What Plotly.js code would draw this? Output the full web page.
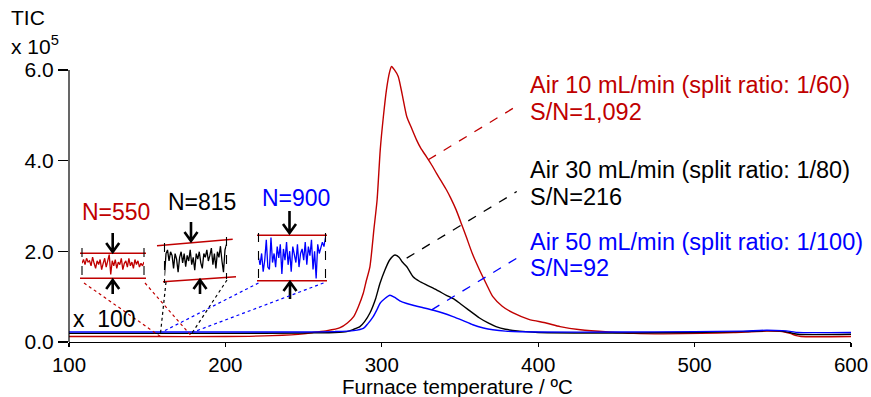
<!DOCTYPE html>
<html>
<head>
<meta charset="utf-8">
<script src="https://cdn.plot.ly/plotly-3.0.1.min.js"></script>
<style>html,body{margin:0;padding:0;background:#fff;}#chart{width:871px;height:397px;}</style>
</head>
<body>
<div id="chart"></div>
<script>
// ---- Data (TIC x 10^5 vs furnace temperature) ----
const redTemp = [100,150,200,230,250,256,265,273,278,282,285,288.2,290,292.4,295,297,299,301,303,305,306.2,308,310.5,313,316,319,322.2,325,328.5,332,335,338,341.3,344,347.6,351,354,358,362.5,367,371,377,384,394,405,414,427,445,461,480,504,525,546,556,561,565,568,600];
const redTIC  = [0.12,0.12,0.12,0.14,0.18,0.21,0.25,0.31,0.42,0.56,0.78,1.08,1.34,1.66,2.5,3.14,4.24,4.97,5.57,5.96,6.08,6.01,5.86,5.47,4.97,4.72,4.46,4.27,4.09,3.9,3.72,3.55,3.36,3.18,2.91,2.6,2.32,1.94,1.59,1.27,1.0,0.79,0.64,0.5,0.42,0.34,0.27,0.22,0.19,0.18,0.19,0.21,0.24,0.23,0.19,0.14,0.12,0.12];

const blackTemp = [100,200,250,270,277.6,282,286,289,292.4,296,298.8,302,305,308.4,311,313,316,320,324,328.5,335,341.3,346,350,355,362.5,368,373,379,388,400,450,500,530,546,556,562,566,600];
const blackTIC  = [0.19,0.19,0.2,0.21,0.23,0.28,0.34,0.45,0.64,0.95,1.29,1.59,1.81,1.92,1.87,1.77,1.66,1.44,1.34,1.26,1.15,1.03,0.95,0.85,0.72,0.53,0.42,0.34,0.28,0.24,0.21,0.2,0.21,0.23,0.25,0.24,0.2,0.17,0.17];

const blueTemp = [100,200,250,270,282,288.2,291,294.5,297,298.8,302,305.2,308,311.5,316,320,326,333,339,345.5,352,358.2,365,371,379,400,450,500,530,546,556,562,566,600];
const blueTIC  = [0.22,0.22,0.22,0.23,0.25,0.3,0.4,0.56,0.72,0.85,0.96,1.03,0.99,0.91,0.85,0.81,0.76,0.7,0.64,0.56,0.47,0.38,0.31,0.27,0.24,0.22,0.22,0.23,0.24,0.26,0.25,0.23,0.21,0.21];

// noise insets (x100 magnified baseline, normalised between the red guide lines)
const redNoise   = [0.6,0.75,0.55,0.8,0.65,0.7,0.5,0.85,0.6,0.4,0.7,0.55,0.75,0.35,0.6,0.8,0.45,0.65,0.95,0.15,0.7,0.5,0.75,0.4,0.65,0.55,0.8,0.35,0.6,0.7,0.45,0.8,0.5,0.65,0.4,0.75,0.55,0.7,0.45,0.6,0.5,0.65];
const blackNoise = [0.1,0.7,0.8,0.5,0.75,0.65,0.3,0.7,0.55,0.2,0.6,0.75,0.45,0.7,0.35,0.65,0.5,0.8,0.4,0.6,0.25,0.7,0.55,0.75,0.45,0.3,0.7,0.6,0.8,0.5,0.65,0.85,0.4,0.7,0.3,0.75,0.6,0.9,0.5,0.2,0.8,0.95];
const blueNoise  = [0.5,0.35,0.6,0.2,0.45,0.9,0.3,0.25,0.95,0.4,0.6,0.3,0.75,0.5,0.8,0.15,0.7,0.45,0.85,0.35,0.65,0.2,0.75,0.55,0.4,0.8,0.3,0.6,0.7,0.45,0.85,0.35,0.75,0.55,0.9,0.25,0.65,0.05,0.8,0.6,0.7,0.85,0.75,0.95];

const seriesNames = ["Air 10 mL/min (split ratio: 1/60)","Air 30 mL/min (split ratio: 1/80)","Air 50 mL/min (split ratio: 1/100)"];
const snLabels = ["S/N=1,092","S/N=216","S/N=92"];
const noiseLabels = ["N=550","N=815","N=900"];
const xTicks = [100,200,300,400,500,600];
const yTicks = [0,2,4,6];
const xTitle = "Furnace temperature / ºC";

// ---- Styling / geometry ----
const RED = "#c00000", BLACK = "#000000", BLUE = "#0000ff";
const FONT = "Liberation Sans, Arial, sans-serif";
const W = 871, H = 397, ML = 69, MR = 20, MT = 61, MB = 55;
const XR = [100, 600], YR = [0, 6.2];
const PW = W - ML - MR, PH = H - MT - MB;
const px = p => (p - ML) / PW;           // pixel x -> paper
const py = p => (H - MB - p) / PH;       // pixel y -> paper
const dx = t => (t - XR[0]) / (XR[1] - XR[0]); // data x -> paper
const dy = v => (v - YR[0]) / (YR[1] - YR[0]); // data y -> paper

const traces = [
  {x: redTemp, y: redTIC, mode: "lines", line: {color: RED, width: 1.4, shape: "spline", smoothing: 0.6}, name: seriesNames[0]},
  {x: blackTemp, y: blackTIC, mode: "lines", line: {color: BLACK, width: 1.4, shape: "spline", smoothing: 0.6}, name: seriesNames[1]},
  {x: blueTemp, y: blueTIC, mode: "lines", line: {color: BLUE, width: 1.4, shape: "spline", smoothing: 0.6}, name: seriesNames[2]},
  {y: redNoise, mode: "lines", line: {color: RED, width: 1.3}, xaxis: "x2", yaxis: "y2"},
  {y: blackNoise, mode: "lines", line: {color: BLACK, width: 1.3}, xaxis: "x3", yaxis: "y3"},
  {y: blueNoise, mode: "lines", line: {color: BLUE, width: 1.3}, xaxis: "x4", yaxis: "y4"}
];

const insetAxis = (x0, x1, yb, yt, n) => ({
  x: {domain: [px(x0), px(x1)], range: [0, n - 1], visible: false, fixedrange: true},
  y: {domain: [py(yb), py(yt)], range: [0, 1], visible: false, fixedrange: true}
});
const in2 = insetAxis(82, 144, 278.3, 253.3, redNoise.length);
const in3 = insetAxis(164.5, 226.5, 279.5, 242.5, blackNoise.length);
const in4 = insetAxis(258.5, 325.5, 280.7, 235.3, blueNoise.length);

const shapes = [];
const pline = (x0, y0, x1, y1, color, width, dash) => shapes.push({type: "line", xref: "paper", yref: "paper",
  x0: px(x0), y0: py(y0), x1: px(x1), y1: py(y1), line: {color, width, dash: dash || "solid"}});
const mixLine = (x0, y0, t, v, color) => shapes.push({type: "line", xref: "paper", yref: "paper",
  x0: px(x0), y0: py(y0), x1: dx(t), y1: dy(v), line: {color, width: 1.2, dash: "dot"}});
const arrow = (x, tail, tip) => {
  const s = tip > tail ? -1 : 1;
  shapes.push({type: "path", xref: "paper", yref: "paper",
    path: `M ${px(x)} ${py(tail)} L ${px(x)} ${py(tip)} M ${px(x - 6.5)} ${py(tip + s * 9)} L ${px(x)} ${py(tip)} L ${px(x + 6.5)} ${py(tip + s * 9)}`,
    line: {color: BLACK, width: 2.6}});
};

// y axis line up to 6.0
shapes.push({type: "line", xref: "paper", yref: "y", x0: 0, x1: 0, y0: 0, y1: 6, line: {color: BLACK, width: 1.2}});

// red inset frame
pline(80, 253.3, 146, 253.3, RED, 1.5); pline(80, 278.3, 146, 278.3, RED, 1.5);
pline(82, 248, 82, 282, BLACK, 1.1, "dash"); pline(144, 248, 144, 282, BLACK, 1.1, "dash");
arrow(112.7, 233, 252); arrow(112.7, 294, 280);
// black inset frame (slanted guide lines)
pline(157, 245.7, 232.7, 239.3, RED, 1.5); pline(163, 281.7, 236, 276.7, RED, 1.5);
pline(164.5, 243, 164.5, 283, BLACK, 1.1, "dash"); pline(226.5, 237, 226.5, 279, BLACK, 1.1, "dash");
arrow(191, 222, 241); arrow(200, 294, 280);
// blue inset frame
pline(257, 235.3, 327, 235.3, RED, 1.5); pline(257, 280.7, 327, 280.7, RED, 1.5);
pline(258.5, 233, 258.5, 283, BLACK, 1.1, "dash"); pline(325.5, 233, 325.5, 283, BLACK, 1.1, "dash");
arrow(289.5, 211, 233); arrow(290, 299, 282);

// dotted connectors to the noise window (160-180 degC)
mixLine(84, 283, 158.5, redTIC[2], RED);
mixLine(145, 283, 178.5, redTIC[2], RED);
mixLine(166, 282, 158.5, blackTIC[1], BLACK);
mixLine(227, 280, 178.5, blackTIC[1], BLACK);
mixLine(258.5, 283, 159.5, blueTIC[1], BLUE);
mixLine(323.5, 283, 179.5, blueTIC[1], BLUE);

// dashed leader lines to labels
const lead = (t0, v0, t1, v1, color) => shapes.push({type: "line", xref: "x", yref: "y", x0: t0, y0: v0, x1: t1, y1: v1, line: {color, width: 1.3, dash: "dash"}});
lead(329.7, 4.02, 384.1, 5.16, RED);
lead(315.9, 1.85, 386.3, 3.32, BLACK);
lead(331.9, 0.71, 386.3, 1.85, BLUE);

const ann = [];
const txt = (x, y, text, color, size, xref, yref, xanchor) => ann.push({x, y, text, xref: xref || "x", yref: yref || "y",
  xanchor: xanchor || "left", yanchor: "middle", showarrow: false, font: {family: FONT, size, color}});
txt(393.5, 5.67, seriesNames[0], RED, 23.5); txt(393.5, 5.08, snLabels[0], RED, 23.5);
txt(393.5, 3.79, seriesNames[1], BLACK, 23.5); txt(393.5, 3.21, snLabels[1], BLACK, 23.5);
txt(393.5, 2.21, seriesNames[2], BLUE, 23.5); txt(393.5, 1.63, snLabels[2], BLUE, 23.5);
txt(px(116), py(212), noiseLabels[0], RED, 23, "paper", "paper", "center");
txt(px(201.5), py(202), noiseLabels[1], BLACK, 23, "paper", "paper", "center");
txt(px(296), py(197.5), noiseLabels[2], BLUE, 23, "paper", "paper", "center");
txt(px(71), py(318.5), "x\u00a0\u00a0100", BLACK, 23, "paper", "paper", "left");
txt(px(9), py(18), "TIC", BLACK, 21, "paper", "paper", "left");
txt(px(9), py(45), "x 10<sup>5</sup>", BLACK, 21, "paper", "paper", "left");
txt(px(457), py(386.5), xTitle, BLACK, 20.5, "paper", "paper", "center");

const layout = {
  width: W, height: H,
  margin: {l: ML, r: MR, t: MT, b: MB, pad: 0},
  paper_bgcolor: "#fff", plot_bgcolor: "#fff",
  showlegend: false,
  font: {family: FONT, color: BLACK},
  xaxis: {range: XR, tickvals: xTicks, ticktext: xTicks.map(String), ticks: "outside", ticklen: 4, tickwidth: 1.2, tickcolor: BLACK,
    showline: true, linecolor: BLACK, linewidth: 1.2, showgrid: false, zeroline: false,
    tickfont: {family: FONT, size: 20.5, color: BLACK}},
  yaxis: {range: YR, tickvals: yTicks, ticktext: yTicks.map(v => v.toFixed(1)), ticks: "outside", ticklen: 10, tickwidth: 1.2, tickcolor: BLACK,
    showline: false, showgrid: false, zeroline: false,
    tickfont: {family: FONT, size: 21, color: BLACK}},
  xaxis2: in2.x, yaxis2: in2.y,
  xaxis3: in3.x, yaxis3: in3.y,
  xaxis4: in4.x, yaxis4: in4.y,
  shapes, annotations: ann
};

Plotly.newPlot("chart", traces, layout, {staticPlot: true, displayModeBar: false});
</script>
</body>
</html>
